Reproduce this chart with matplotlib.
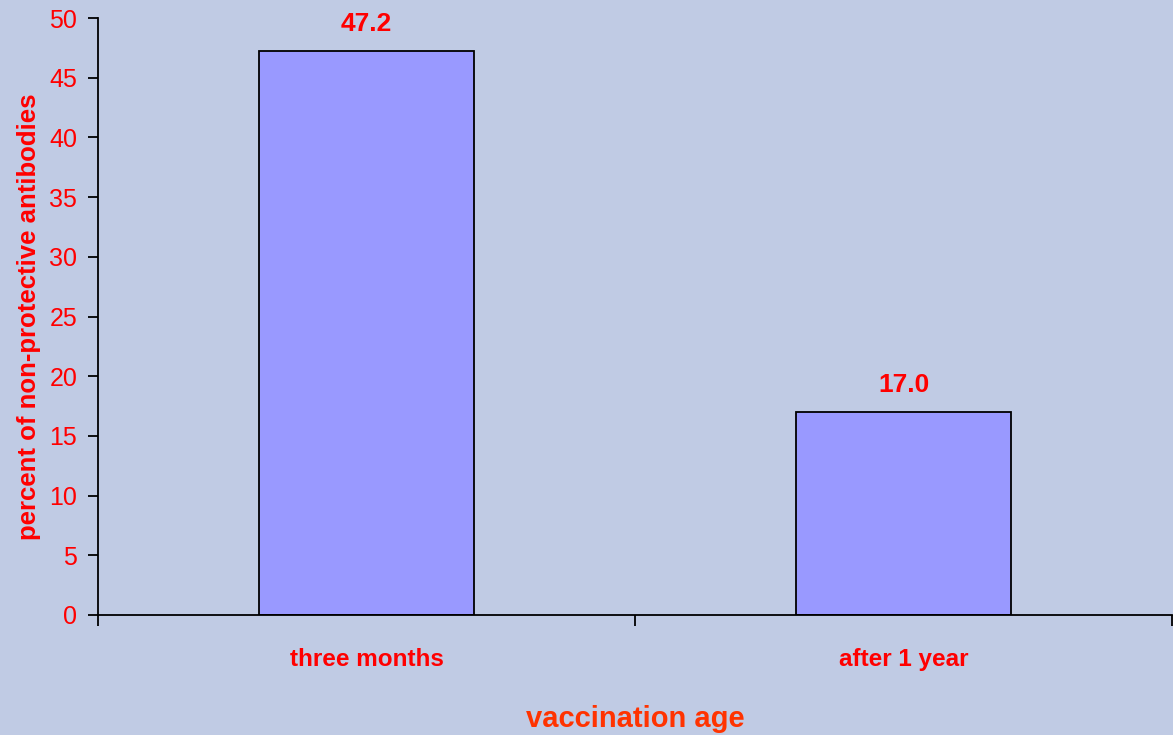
import matplotlib.pyplot as plt
import numpy as np

categories = ["three months", "after 1 year"]
values = [47.2, 17.0]
yticks = [0, 5, 10, 15, 20, 25, 30, 35, 40, 45, 50]

bg = "#C0CBE4"
red = "#FF0000"

plt.rcParams['font.family'] = ['Liberation Sans', 'DejaVu Sans']

fig = plt.figure(figsize=(11.73, 7.35), dpi=100)
fig.patch.set_facecolor(bg)
ax = fig.add_axes([98 / 1173, 120 / 735, 1074 / 1173, 597 / 735])
ax.set_facecolor(bg)

x = np.arange(len(categories))
bars = ax.bar(x, values, width=0.4, color="#9999FF", edgecolor="black", linewidth=1.3)
for b, v in zip(bars, values):
    ax.annotate(f"{v:.1f}", (b.get_x() + b.get_width() / 2, v), xytext=(0, 11),
                textcoords="offset points", ha="center", va="bottom",
                color=red, fontsize=19, fontweight="bold")

ax.set_xlim(-0.5, len(categories) - 0.5)
ax.set_ylim(0, 50)
ax.set_yticks(yticks)
ax.tick_params(axis="y", colors="black", labelcolor=red, labelsize=18,
               length=7, width=1.3, direction="out", pad=8)

# boundary ticks as majors, category names on minor ticks
ax.set_xticks(np.arange(-0.5, len(categories)))
ax.set_xticklabels([])
ax.set_xticks(x, minor=True)
ax.set_xticklabels(categories, minor=True, color=red, fontsize=17.5, fontweight="bold")
ax.tick_params(axis="x", which="major", length=8, width=1.3, direction="out")
ax.tick_params(axis="x", which="minor", length=0, pad=24)

for s in ["top", "right"]:
    ax.spines[s].set_visible(False)
for s in ["left", "bottom"]:
    ax.spines[s].set_linewidth(1.3)

ax.set_ylabel("percent of non-protective antibodies", color=red, fontsize=18.5,
              fontweight="bold", labelpad=6)
ax.set_xlabel("vaccination age", color="#FF3300", fontsize=21, fontweight="bold",
              labelpad=24)

fig.savefig("out.png", dpi=100, facecolor=bg)
